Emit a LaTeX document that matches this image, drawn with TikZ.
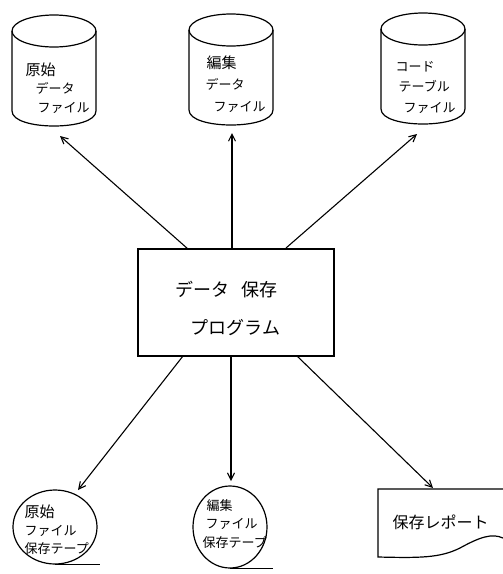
\documentclass[tikz,border=0pt]{standalone}
\usepackage{fontspec}
\setmainfont{Noto Sans CJK JP}
\usetikzlibrary{arrows.meta,shapes.geometric}
\begin{document}
\begin{tikzpicture}[x=1pt,y=-1pt,
  line width=1.2pt,
  arr/.style={-{Straight Barb[length=7pt,width=7pt]},line width=1.1pt},
  small/.style={font=\fontsize{13}{13}\selectfont,anchor=west,inner sep=0pt},
  wide/.style={font=\fontsize{15}{15}\selectfont,anchor=west,inner sep=0pt},
  big/.style={font=\fontsize{18}{18}\selectfont,anchor=west,inner sep=0pt},
  mid/.style={font=\fontsize{16}{16}\selectfont,anchor=west,inner sep=0pt},
  dbcyl/.pic={
    \draw (0,0) ellipse [x radius=42, y radius=16];
    \draw (-42,0) -- (-42,80) .. controls (-42,100) and (42,100) .. (42,80) -- (42,0);
  }]
\useasboundingbox[fill=white] (0,0) rectangle (503,574);

% cylinders (disk files)
\pic at (54,31) {dbcyl};
\pic at (231,30) {dbcyl};
\pic at (423,29) {dbcyl};

\node[wide] (c1a) at (25,70) {原始};
\node[small] (c1b) at (35,88) {データ};
\node[small] (c1c) at (37,108) {ファイル};

\node[wide] (c2a) at (206,63) {編集};
\node[small] (c2b) at (205,84) {データ};
\node[small] (c2c) at (213,107) {ファイル};

\node[small] (c3a) at (395,67) {コード};
\node[small] (c3b) at (398,86) {テーブル};
\node[small] (c3c) at (403,108) {ファイル};

% program box
\node[draw,minimum width=196,minimum height=107,inner sep=0pt] (prog) at (236,302.5) {};
\node[big] (pa) at (175,290) {データ\hspace{12pt}保存};
\node[big] (pb) at (190,328) {プログラム};

% tapes
\node[draw,ellipse,minimum width=84,minimum height=74,inner sep=0pt] (t1) at (55,527) {};
\draw (t1.south) -- ++(45,0);
\node[wide] (t1a) at (24,512) {原始};
\node[small] (t1b) at (24,531) {ファイル};
\node[small] (t1c) at (24,549) {保存テープ};

\node[draw,ellipse,minimum width=74,minimum height=82,inner sep=0pt] (t2) at (230,527) {};
\draw (t2.south) -- ++(43,0);
\node[small] (t2a) at (206,506) {編集};
\node[small] (t2b) at (205,524) {ファイル};
\node[small] (t2c) at (202,543) {保存テープ};

% report (document)
\draw (503,489) -- (378,489) -- (378,557)
  .. controls (420,558) and (440,558) .. (460,548)
  .. controls (480,537) and (492,533) .. (503,538);
\node[mid] (rep) at (392,522) {保存レポート};

% connector end points
\coordinate (u1) at (188,249);
\coordinate (u2) at (232,249);
\coordinate (u3) at (286,248);
\coordinate (e1) at (60,136);
\coordinate (e2) at (232,133);
\coordinate (e3) at (417,134);
\coordinate (d1) at (183,356);
\coordinate (d2) at (231,356);
\coordinate (d3) at (297,356);
\coordinate (f1) at (78,490);
\coordinate (f2) at (231,481);
\coordinate (f3) at (433,488);

\draw[arr] (u1) -- (e1);
\draw[arr] (u2) -- (e2);
\draw[arr] (u3) -- (e3);
\draw[arr] (d1) -- (f1);
\draw[arr] (d2) -- (f2);
\draw[arr] (d3) -- (f3);
\end{tikzpicture}
\end{document}
